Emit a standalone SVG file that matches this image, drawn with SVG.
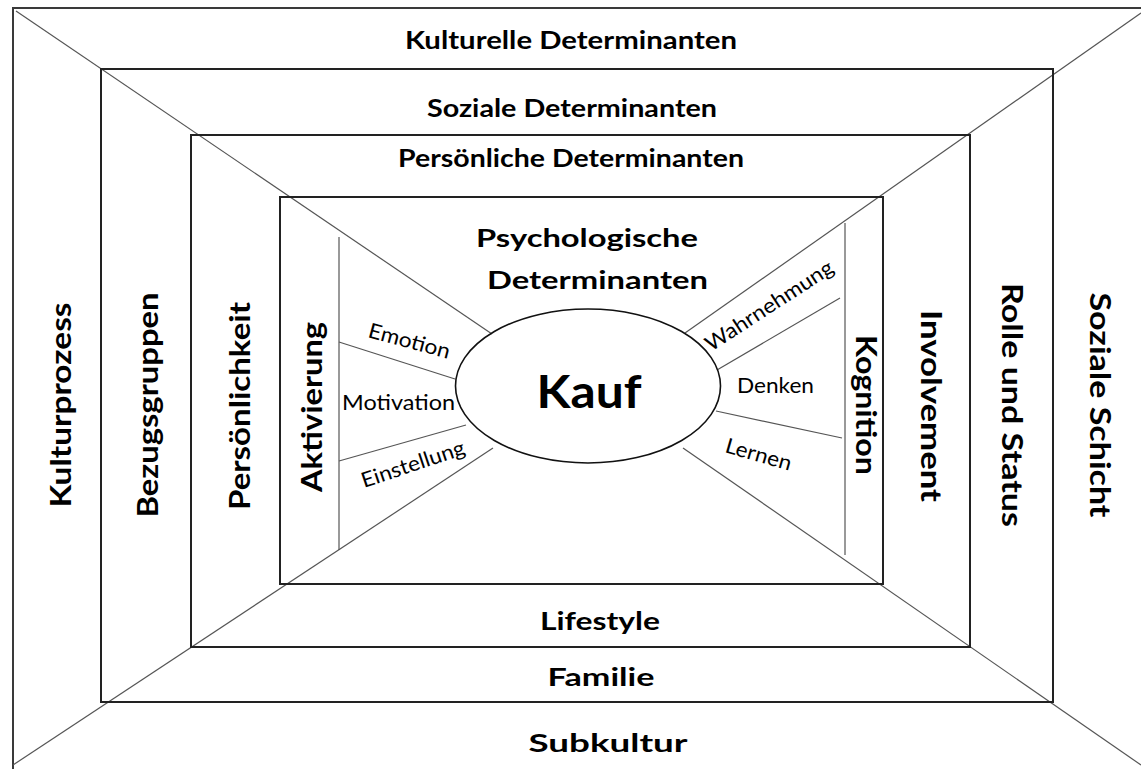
<svg xmlns="http://www.w3.org/2000/svg" width="1141" height="769" viewBox="0 0 1141 769">
<style>
.frame{fill:none;stroke:#3a3a3a;stroke-width:2}
.box{fill:none;stroke:#222;stroke-width:2}
.diag{fill:none;stroke:#555;stroke-width:1.2}
.thin{fill:none;stroke:#555;stroke-width:1.2}
.big{font-family:Lato,"Open Sans",sans-serif;font-weight:bold;font-size:24px;fill:#000}
.side{font-family:Lato,"Open Sans",sans-serif;font-weight:bold;font-size:29px;fill:#000}
.small{font-family:Lato,"Open Sans",sans-serif;font-size:21px;fill:#000}
.kauf{font-family:Lato,"Open Sans",sans-serif;font-weight:bold;font-size:46px;fill:#000}
</style>
<rect width="1141" height="769" fill="#fff"/>
<g id="frame">
<path class="frame" d="M13 769 V8 H1141"/>
</g>
<g id="connectors">
<line class="diag" x1="16" y1="11" x2="492" y2="334"/>
<line class="diag" x1="1141" y1="13" x2="685" y2="333"/>
<line class="diag" x1="13" y1="765" x2="493" y2="448"/>
<line class="diag" x1="1141" y1="765" x2="683" y2="448"/>
<line class="thin" x1="339" y1="237" x2="339" y2="550"/>
<line class="thin" x1="845" y1="223" x2="845" y2="555"/>
<line class="thin" x1="339" y1="342" x2="455" y2="379"/>
<line class="thin" x1="339" y1="461" x2="466" y2="425"/>
<line class="thin" x1="840" y1="298" x2="717" y2="370"/>
<line class="thin" x1="716" y1="411" x2="842" y2="438"/>
</g>
<g id="kulturelle">
<text class="big" x="571" y="49" text-anchor="middle" textLength="332" lengthAdjust="spacingAndGlyphs">Kulturelle Determinanten</text>
<text class="side" transform="translate(71,405) rotate(-90)" text-anchor="middle" textLength="205" lengthAdjust="spacingAndGlyphs">Kulturprozess</text>
<text class="side" transform="translate(1090,405) rotate(90)" text-anchor="middle" textLength="225" lengthAdjust="spacingAndGlyphs">Soziale Schicht</text>
<text class="big" x="608" y="752" text-anchor="middle" textLength="159" lengthAdjust="spacingAndGlyphs">Subkultur</text>
</g>
<g id="soziale">
<rect class="box" x="101" y="69" width="952" height="633"/>
<text class="big" x="572" y="117" text-anchor="middle" textLength="290" lengthAdjust="spacingAndGlyphs">Soziale Determinanten</text>
<text class="side" transform="translate(158,405) rotate(-90)" text-anchor="middle" textLength="225" lengthAdjust="spacingAndGlyphs">Bezugsgruppen</text>
<text class="side" transform="translate(1002,405) rotate(90)" text-anchor="middle" textLength="244" lengthAdjust="spacingAndGlyphs">Rolle und Status</text>
<text class="big" x="601" y="686" text-anchor="middle" textLength="107" lengthAdjust="spacingAndGlyphs">Familie</text>
</g>
<g id="persoenliche">
<rect class="box" x="191" y="135" width="779" height="512"/>
<text class="big" x="571" y="167" text-anchor="middle" textLength="346" lengthAdjust="spacingAndGlyphs">Persönliche Determinanten</text>
<text class="side" transform="translate(250,406) rotate(-90)" text-anchor="middle" textLength="208" lengthAdjust="spacingAndGlyphs">Persönlichkeit</text>
<text class="side" transform="translate(921,406) rotate(90)" text-anchor="middle" textLength="192" lengthAdjust="spacingAndGlyphs">Involvement</text>
<text class="big" x="600" y="630" text-anchor="middle" textLength="120" lengthAdjust="spacingAndGlyphs">Lifestyle</text>
</g>
<g id="psychologische">
<rect class="box" x="280" y="197" width="603" height="387"/>
<text class="big" x="476" y="247" textLength="222" lengthAdjust="spacingAndGlyphs">Psychologische</text>
<text class="big" x="487" y="289" textLength="221" lengthAdjust="spacingAndGlyphs">Determinanten</text>
<text class="side" transform="translate(322,407) rotate(-90)" text-anchor="middle" textLength="170" lengthAdjust="spacingAndGlyphs">Aktivierung</text>
<text class="side" transform="translate(856,405) rotate(90)" text-anchor="middle" textLength="140" lengthAdjust="spacingAndGlyphs">Kognition</text>
</g>
<g id="aktivierung-items">
<text class="small" transform="translate(367,337) rotate(15)" textLength="84" lengthAdjust="spacingAndGlyphs">Emotion</text>
<text class="small" x="342" y="410" textLength="113" lengthAdjust="spacingAndGlyphs">Motivation</text>
<text class="small" transform="translate(364,488) rotate(-18.5)" textLength="108" lengthAdjust="spacingAndGlyphs">Einstellung</text>
</g>
<g id="kognition-items">
<text class="small" transform="translate(711,352) rotate(-33)" textLength="148" lengthAdjust="spacingAndGlyphs">Wahrnehmung</text>
<text class="small" x="737" y="393" textLength="77" lengthAdjust="spacingAndGlyphs">Denken</text>
<text class="small" transform="translate(724,452) rotate(16)" textLength="68" lengthAdjust="spacingAndGlyphs">Lernen</text>
</g>
<g id="kauf">
<ellipse cx="588" cy="386" rx="132.5" ry="77" fill="none" stroke="#111" stroke-width="1.6"/>
<text class="kauf" x="589" y="408" text-anchor="middle" textLength="105" lengthAdjust="spacingAndGlyphs">Kauf</text>
</g>
</svg>
